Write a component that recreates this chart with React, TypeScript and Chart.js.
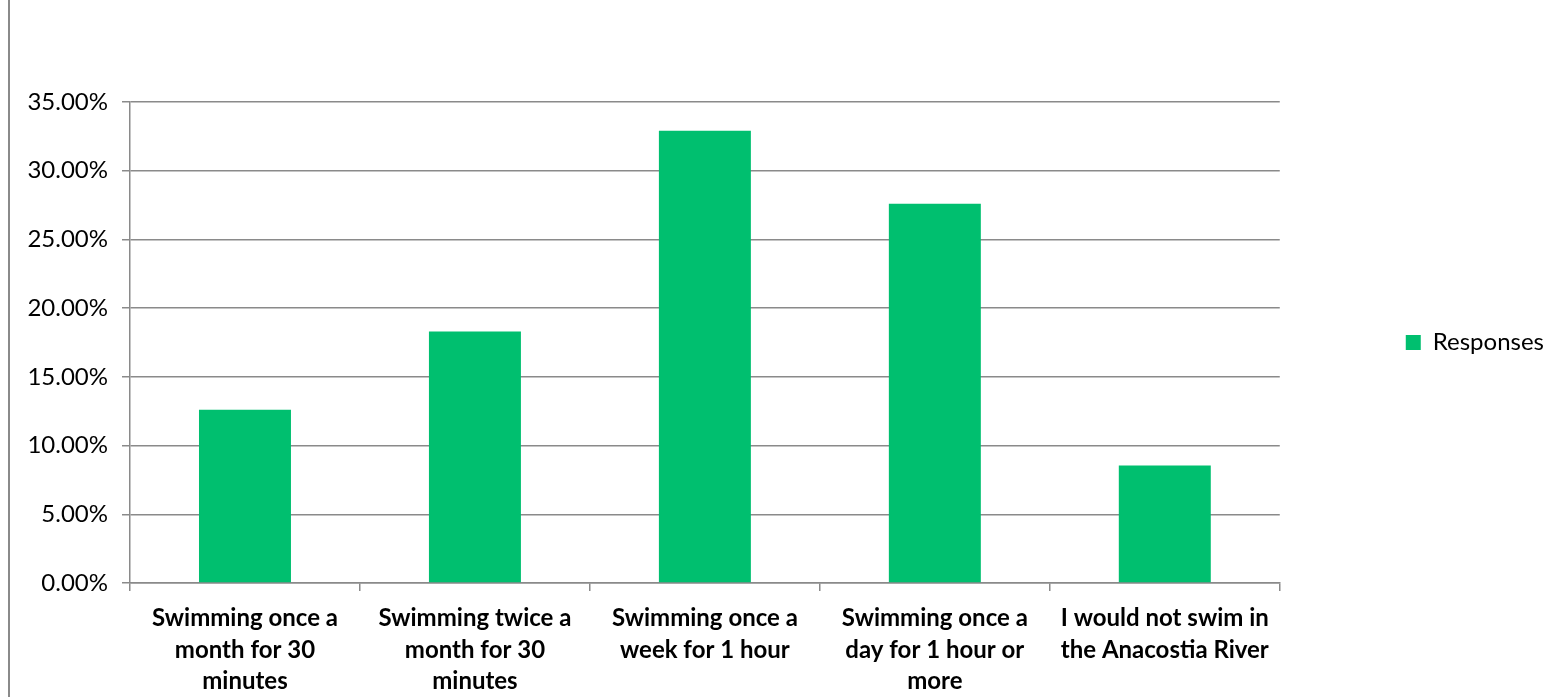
import React, { useEffect, useRef } from "react";
import { Chart, registerables } from "chart.js";

Chart.register(...registerables);

const categories: string[][] = [
  ["Swimming once a", "month for 30", "minutes"],
  ["Swimming twice a", "month for 30", "minutes"],
  ["Swimming once a", "week for 1 hour"],
  ["Swimming once a", "day for 1 hour or", "more"],
  ["I would not swim in", "the Anacostia River"],
];
const seriesName = "Responses";
const responses: number[] = [12.6, 18.3, 32.9, 27.6, 8.55];
const yTicks: number[] = [0, 5, 10, 15, 20, 25, 30, 35];

const GREEN = "#00bf6f";
const GRID = "#8a8a8a";
const FONT = "Lato";

export default function App() {
  const ref = useRef<HTMLCanvasElement | null>(null);

  useEffect(() => {
    if (!ref.current) return;
    const chart = new Chart(ref.current, {
      type: "bar",
      data: {
        labels: categories,
        datasets: [
          {
            label: seriesName,
            data: responses,
            backgroundColor: GREEN,
            borderWidth: 0,
            barPercentage: 0.4,
            categoryPercentage: 1,
          },
        ],
      },
      options: {
        animation: false,
        responsive: true,
        maintainAspectRatio: false,
        layout: { padding: { top: 102, right: 0, bottom: 0, left: 0 } },
        plugins: {
          tooltip: { enabled: false },
          legend: {
            position: "right",
            fullSize: false,
            labels: {
              boxWidth: 15,
              boxHeight: 15,
              padding: 126,
              color: "#000",
              font: { family: FONT, size: 24 },
            },
          },
        },
        scales: {
          x: {
            afterFit: (s: any) => {
              s.height = 114;
            },
            grid: {
              offset: true,
              drawOnChartArea: false,
              drawTicks: true,
              tickLength: 8,
              color: GRID,
              lineWidth: 1.5,
            },
            border: { display: true, color: GRID, width: 1.5 },
            ticks: {
              color: "#000",
              padding: 12,
              maxRotation: 0,
              autoSkip: false,
              font: { family: FONT, size: 24, weight: "bold", lineHeight: 1.3 },
            },
          },
          y: {
            min: 0,
            max: 35,
            afterFit: (s: any) => {
              s.width = 130;
            },
            afterBuildTicks: (s: any) => {
              s.ticks = yTicks.map((v) => ({ value: v }));
            },
            grid: {
              drawTicks: true,
              tickLength: 8,
              color: GRID,
              lineWidth: 1.5,
            },
            border: { display: true, color: GRID, width: 1.5 },
            ticks: {
              color: "#000",
              padding: 14,
              font: { family: FONT, size: 24 },
              callback: (v: any) => Number(v).toFixed(2) + "%",
            },
          },
        },
      },
    });
    return () => chart.destroy();
  }, []);

  return (
    <div style={{ position: "fixed", left: 0, top: 0, width: 1554, height: 697, background: "#fff" }}>
      <div style={{ position: "absolute", left: 8, top: 0, width: 2, height: 697, background: GRID }} />
      <canvas ref={ref} />
    </div>
  );
}
